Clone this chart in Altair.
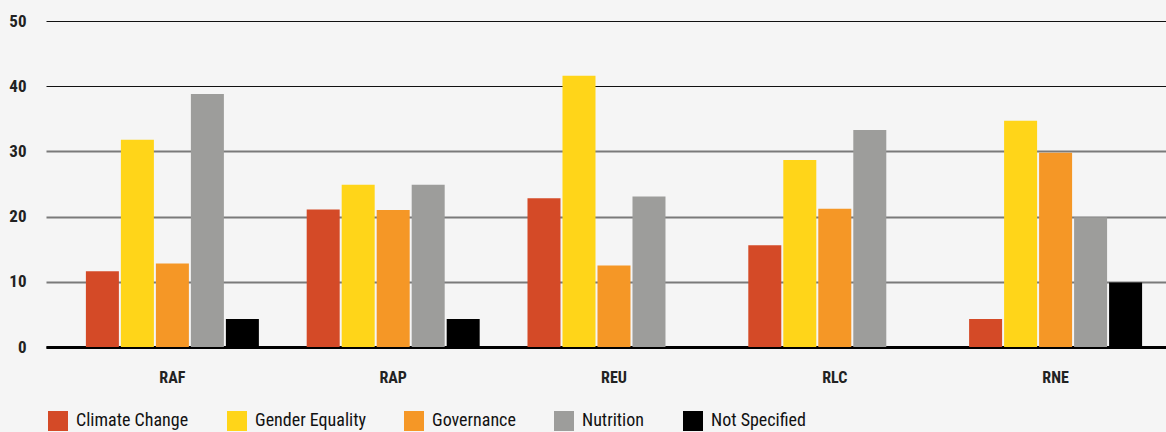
import altair as alt
import pandas as pd

# Regional office shares (%) by thematic area
regions = ["RAF", "RAP", "REU", "RLC", "RNE"]
themes = ["Climate Change", "Gender Equality", "Governance", "Nutrition", "Not Specified"]
theme_colors = ["#d44a27", "#ffd519", "#f59726", "#9d9d9b", "#000000"]

climate_change = [11.6, 21.1, 22.8, 15.6, 4.3]
gender_equality = [31.8, 24.9, 41.6, 28.7, 34.7]
governance = [12.8, 21.0, 12.5, 21.2, 29.8]
nutrition = [38.8, 24.9, 23.1, 33.3, 19.9]
not_specified = [4.3, 4.3, None, None, 9.9]

series = [climate_change, gender_equality, governance, nutrition, not_specified]
rows = []
for theme, values in zip(themes, series):
    for region, v in zip(regions, values):
        if v is not None:
            rows.append({"region": region, "theme": theme, "value": v})
df = pd.DataFrame(rows)

FONT = "Roboto Condensed, Open Sans Condensed, Liberation Sans Narrow, Roboto, sans-serif"

bars = alt.Chart(df).mark_bar().encode(
    x=alt.X(
        "region:N",
        sort=regions,
        title=None,
        scale=alt.Scale(paddingInner=0, paddingOuter=0.0362, align=1),
        axis=alt.Axis(
            labelAngle=0,
            labelFont=FONT,
            labelFontSize=16,
            labelFontWeight="bold",
            labelColor="#222222",
            labelPadding=22,
            ticks=False,
            domain=True,
            domainColor="#000000",
            domainWidth=3,
            grid=False,
        ),
    ),
    xOffset=alt.XOffset(
        "theme:N",
        sort=themes,
        scale=alt.Scale(domain=themes, paddingInner=0.0571, paddingOuter=0.683),
    ),
    y=alt.Y(
        "value:Q",
        title=None,
        scale=alt.Scale(domain=[0, 50], nice=False),
        axis=alt.Axis(
            values=[0, 10, 20, 30, 40, 50],
            labelFont=FONT,
            labelFontSize=17,
            labelFontWeight="bold",
            labelColor="#222222",
            labelPadding=20,
            ticks=False,
            domain=False,
            grid=True,
            gridColor=alt.condition("datum.value >= 40 || datum.value == 0",
                                    alt.value("#111111"), alt.value("#7a7a7a")),
            gridWidth=alt.condition("datum.value >= 40",
                                    alt.value(1), alt.value(2)),
        ),
    ),
    color=alt.Color(
        "theme:N",
        sort=themes,
        scale=alt.Scale(domain=themes, range=theme_colors),
        legend=alt.Legend(
            title=None,
            orient="none",
            direction="horizontal",
            legendX=2,
            legendY=390,
            symbolType="square",
            symbolSize=400,
            symbolStrokeWidth=0,
            labelFont=FONT,
            labelFontSize=18,
            labelColor="#111111",
            labelOffset=8,
            columnPadding=38,
            labelLimit=300,
        ),
    ),
)

chart = bars.properties(
    width=1120,
    height=326,
    background="#f5f5f5",
    padding={"left": 46, "top": 21, "right": 0, "bottom": 85},
    autosize=alt.AutoSizeParams(type="none"),
).configure_view(stroke=None)

chart.save("out.html", embed_options={"renderer": "svg", "actions": False})
